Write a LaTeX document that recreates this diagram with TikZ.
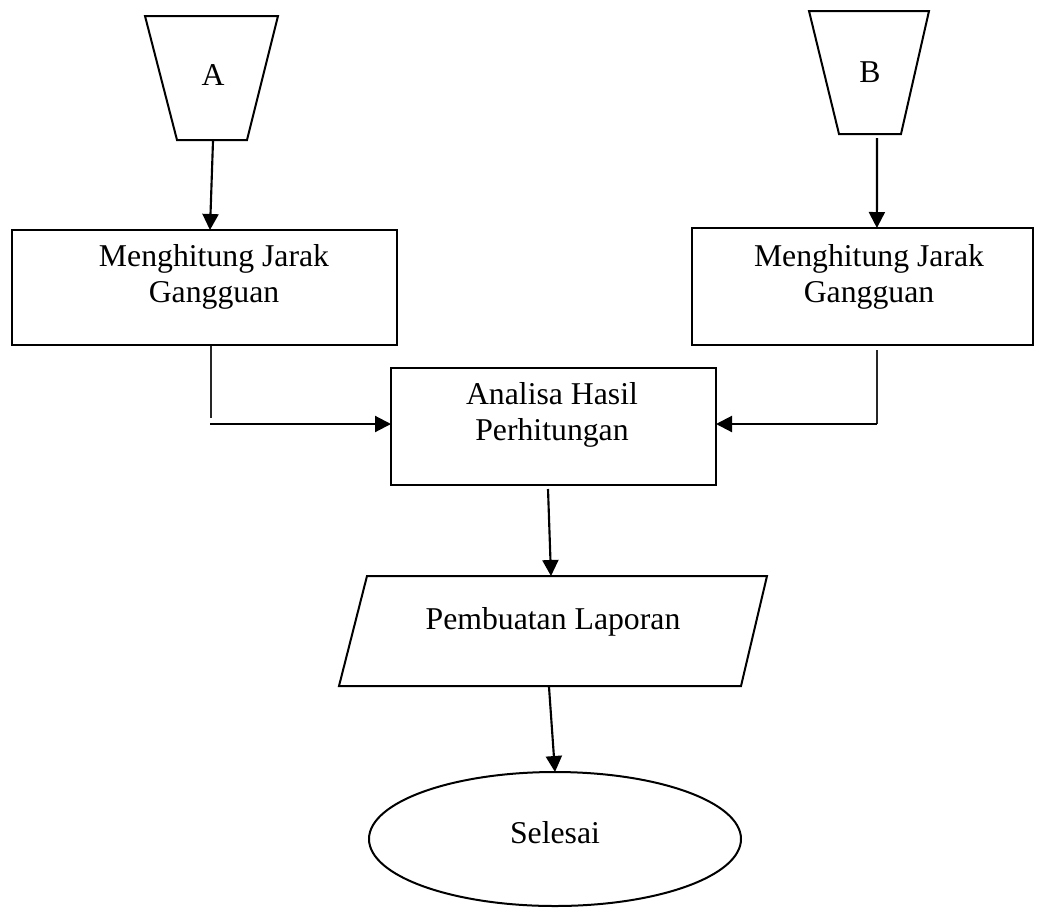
\documentclass[tikz,border=0pt]{standalone}
\usepackage{fontspec}
\setmainfont{Liberation Serif}
\usetikzlibrary{arrows.meta,shapes.geometric}
\begin{document}
\begin{tikzpicture}[x=0.75pt,y=-0.75pt,
  outline/.style={draw=black, line width=1.5pt},
  label/.style={font=\fontsize{23.8}{27}\selectfont, align=center, inner sep=0pt},
  stepbox/.style={outline, rectangle, inner sep=0pt, outer sep=0pt},
  arr/.style={line width=1.6pt, -{Triangle[length=12pt,width=12pt]}},
  thinline/.style={line width=0.8pt, draw=black!85}
]
\useasboundingbox (0,0) rectangle (1045,907);

% manual input symbols
\draw[outline] (145,16) -- (278,16) -- (247,140) -- (177,140) -- cycle;
\node[label] (ta) at (213,75) {A};
\coordinate (abot) at (213,141);
\draw[outline] (809,11) -- (929,11) -- (901,134) -- (839,134) -- cycle;
\node[label] (tb) at (870,72) {B};
\coordinate (bbot) at (877,138);

% process boxes
\node[stepbox, minimum width=288.75pt, minimum height=86.25pt] (hitA) at (204.5,287.5) {};
\node[label] (thitA) at (214,277) {Menghitung Jarak\\Gangguan};
\node[stepbox, minimum width=255.75pt, minimum height=87.75pt] (hitB) at (862.5,286.5) {};
\node[label] (thitB) at (869,277) {Menghitung Jarak\\Gangguan};
\node[stepbox, minimum width=243.75pt, minimum height=87.75pt] (anl) at (553.5,426.5) {};
\node[label] (tanl) at (552,415) {Analisa Hasil\\Perhitungan};

% report (parallelogram)
\draw[outline] (367,576) -- (767,576) -- (741,686) -- (339,686) -- cycle;
\node[label] (tlap) at (553,622) {Pembuatan Laporan};
\coordinate (ltop) at (551,576);
\coordinate (lbot) at (549,687);

% terminator
\node[outline, ellipse, minimum width=279pt, minimum height=100.5pt, inner sep=0pt, outer sep=0pt] (end) at (555,839) {};
\node[label] (tend) at (555,833) {Selesai};

% connectors
\draw[arr] (abot) -- ([xshift=4.1pt]hitA.north);
\draw[arr] (bbot) -- ([xshift=10.8pt]hitB.north);

\coordinate (lc1) at (211,346);
\coordinate (lc2) at (211,418);
\coordinate (lc3) at (210,424);
\draw[thinline] (lc1) -- (lc2);
\draw[arr] (lc3) -- (lc3 -| anl.west);

\coordinate (rc1) at (877,350);
\coordinate (rc2) at (877,424);
\draw[thinline] (rc1) -- (rc2);
\draw[arr] (rc2) -- (rc2 -| anl.east);

\coordinate (anlbot) at (548,489);
\draw[arr] (anlbot) -- (ltop);
\draw[arr] (lbot) -- (end.north);
\end{tikzpicture}
\end{document}
